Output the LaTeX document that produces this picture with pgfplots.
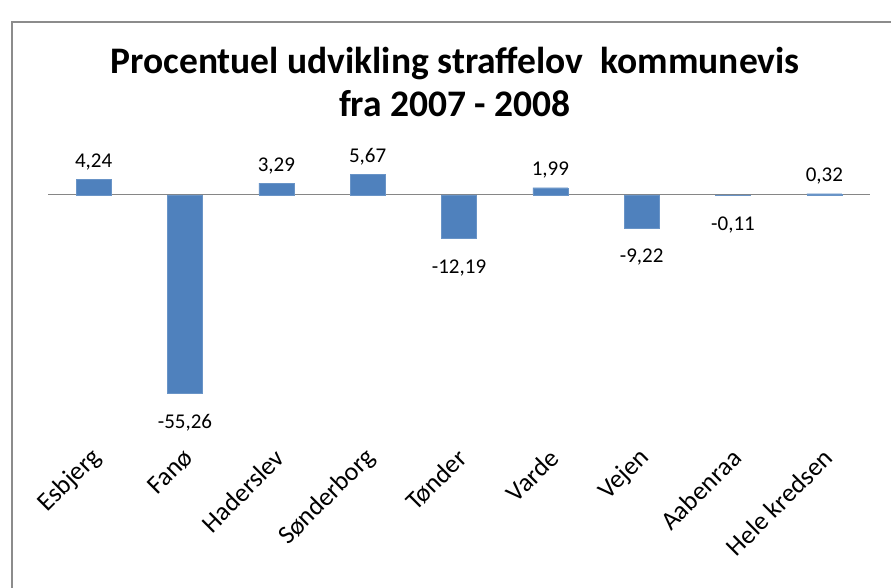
\documentclass[border=0pt]{standalone}
\usepackage{fontspec}
\setmainfont{Carlito}
\usepackage{pgfplots}
\pgfplotsset{compat=1.18}
\definecolor{barblue}{HTML}{4F81BD}
\definecolor{zeroline}{HTML}{868686}
\definecolor{framegray}{HTML}{8C8C8C}

\begin{document}
\begin{tikzpicture}
\useasboundingbox (0,0) rectangle (891pt,-587pt);
\begin{scope}
  \clip (0,0) rectangle (891pt,-587pt);
  \draw[framegray, line width=2pt] (12pt,-22pt) rectangle (905pt,-605pt);
\end{scope}
% title
\node[font=\fontsize{37.5}{43}\selectfont\bfseries, align=center] at (455pt,-82pt)
  {Procentuel udvikling straffelov~ kommunevis\\fra 2007 - 2008};
% ── bars ──────
\begin{axis}[
    at={(48pt,-410pt)}, anchor=south west,
    scale only axis,
    width=822pt, height=251pt,
    xmin=-0.5, xmax=8.5, ymin=-60, ymax=10,
    ybar, bar width=35pt,
    axis line style={draw=none},
    ytick=\empty,
    xtick=data,
    xtick style={draw=none},
    xticklabels={Esbjerg,Fanø,Haderslev,Sønderborg,Tønder,Varde,Vejen,Aabenraa,Hele kredsen},
    xticklabel style={font=\fontsize{26}{30}\selectfont, xshift=6pt, yshift=-37pt, rotate=45, anchor=east},
    extra y ticks={0}, extra y tick labels={},
    extra y tick style={grid=major, major grid style={zeroline, line width=1.2pt}, tick style={draw=none}},
    nodes near coords,
    nodes near coords align={vertical},
    visualization depends on=rawy \as \rawy,
    /pgf/number format/assume math mode=true,
    /pgf/number format/.cd, use comma, fixed, fixed zerofill, precision=2, /pgfplots/.cd,
    every node near coord/.append style={font=\fontsize{21}{25}\selectfont, text=black, inner sep=9pt,
        yshift={ifthenelse(\rawy<0,-12,0)}},
    clip=false,
]
\addplot[fill=barblue, draw=barblue!85!white, bar shift=0pt] coordinates {
(0,4.24)(1,-55.26)(2,3.29)(3,5.67)(4,-12.19)(5,1.99)(6,-9.22)(7,-0.11)(8,0.32)
};
\end{axis}
\end{tikzpicture}
\end{document}
